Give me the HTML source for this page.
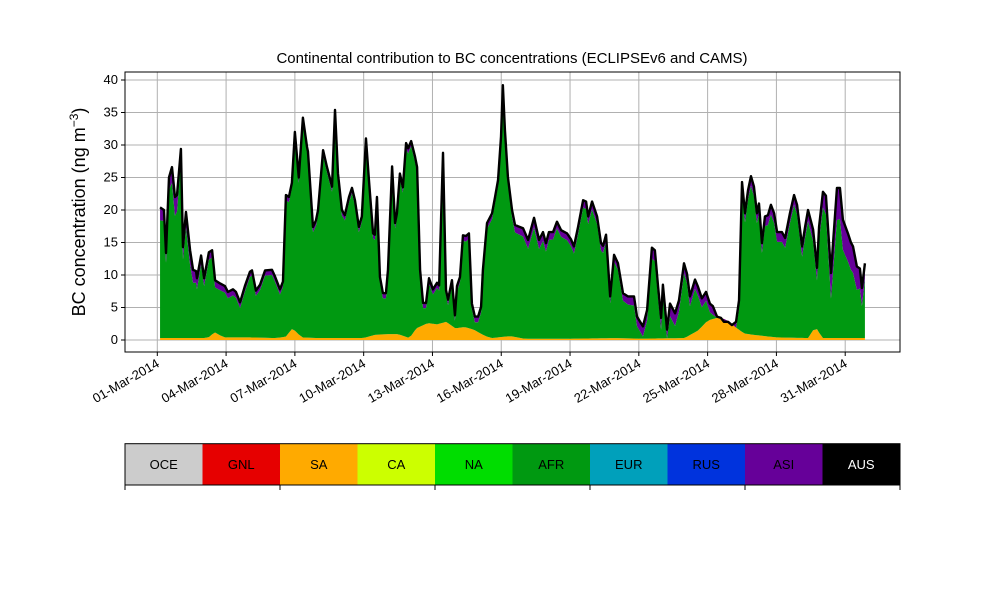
<!DOCTYPE html>
<html><head><meta charset="utf-8"><style>
body{margin:0;background:#fff;}
svg{font-family:"Liberation Sans","DejaVu Sans",sans-serif;}
</style></head><body>
<svg id="chart" width="1000" height="600" viewBox="0 0 1000 600" xmlns="http://www.w3.org/2000/svg">
<rect width="1000" height="600" fill="#fff"/>
<g id="grid"></g>
<g id="areas"></g>
<g id="axes"></g>
<g id="legend"></g>
</svg>
<script>
// Day index (days since 01-Mar-2014 00:00) for total concentration readings
const totalDays = [0.12,0.29,0.38,0.51,0.64,0.77,0.86,1.03,1.12,1.25,1.43,1.56,1.69,1.73,1.91,2.04,2.25,2.39,2.52,2.74,2.95,3.08,3.30,3.43,3.61,3.82,4.04,4.13,4.30,4.48,4.70,5.00,5.13,5.35,5.48,5.61,5.74,5.87,6.00,6.17,6.35,6.53,6.57,6.79,6.92,7.01,7.23,7.40,7.62,7.75,7.88,8.05,8.18,8.36,
8.49,8.62,8.79,8.92,9.10,9.23,9.41,9.49,9.58,9.71,9.84,9.97,10.06,10.24,10.37,10.45,10.58,10.71,10.85,10.94,11.07,11.24,11.33,11.46,11.59,11.72,11.85,12.02,12.20,12.29,12.46,12.59,12.68,12.85,12.98,13.07,13.20,13.33,13.46,13.59,13.72,13.85,13.99,14.12,14.20,14.38,14.60,14.73,14.86,14.99,15.07,15.16,15.29,15.47,15.60,15.73,15.95,16.17,
16.43,16.65,16.82,16.95,17.08,17.26,17.43,17.61,17.87,18.04,18.17,18.35,18.57,18.70,18.79,18.96,19.18,19.35,19.44,19.57,19.75,19.92,20.09,20.31,20.53,20.79,20.92,21.18,21.36,21.57,21.70,21.84,21.97,22.05,22.23,22.36,22.58,22.75,22.97,23.10,23.23,23.45,23.58,23.75,23.93,24.10,24.23,24.41,24.58,24.71,24.89,25.06,25.24,25.37,25.50,25.63,25.76,25.89,26.02,26.15,26.24,26.37,26.50,26.63,26.76,26.90,27.03,27.24,27.38,27.59,27.77,27.90,28.12,28.25,28.38,28.60,28.77,28.86,29.03,29.16,29.38,29.47,29.64,29.77,29.90,30.12,30.25,30.34,30.51,30.64,30.73,30.86];
const totalValues = [20.4,20.0,13.4,25,26.6,22,22.3,29.4,14.3,19.7,13.8,10.8,10.6,9.5,13,9.5,13.5,13.8,9.2,8.7,8.3,7.4,7.8,7.4,5.8,8.3,10.5,10.7,7.6,8.5,10.7,10.8,9.8,7.8,9,22.3,22,24.2,32,25,34.2,29.7,29,17.4,18.4,20,29.2,26.6,23.6,35.4,25.6,20,19.2,22,
23.4,21.5,17.4,19,31,24.6,16.4,16.2,22,9.7,7.2,7.2,10.8,26.7,18,19.5,25.6,23.5,30.3,29.5,30.6,28.2,26.6,10.8,5.7,5.7,9.5,7.8,8.8,8.4,28.8,7.7,6.2,9.2,3.8,8.3,9.7,16.1,16,16.4,5.6,3.6,3.6,5.1,10.8,18,19.5,22,24.6,31.3,39.2,32.3,25.1,20,17.7,17.5,17.2,15.4,
18.8,15.4,16.6,14.9,16.6,16.6,18.2,16.9,16.4,15.5,14.4,17.4,21.5,21.3,19,21.3,19,14.9,14.5,16.2,6.7,13.1,11.8,7.2,6.7,6.7,3.6,2.1,4.6,14.2,13.8,8.2,3.4,8.5,1.6,5.6,4.1,6.1,11.8,10.2,6.7,9.3,8.2,6.4,7.4,5.6,5.2,3.6,3.4,2.8,2.8,2.3,2.8,6.1,24.3,19.5,23,25.2,23.6,19.5,21,14.9,19,19.2,20.8,19.5,16.6,16.6,15.7,19.5,22.3,20.8,14.4,17.4,20,17,11.1,17.4,22.8,22.2,10.3,14.9,23.4,23.4,18.5,16.4,15,14.4,11.3,11,8,11.8];
// South America (SA) contribution
const saDays = [0.12,1.5,2.2,2.5,2.9,4,5.2,5.6,5.9,6.3,7,9,9.5,10,10.5,11,11.3,11.8,12.2,12.6,13,13.4,13.8,14.3,14.6,15.1,15.4,16,18,20,21,23,23.6,24,24.4,24.8,25.2,25.6,26,27,28.4,28.7,29,31.05];
const saValues = [0.3,0.3,0.3,1.2,0.4,0.4,0.3,0.5,1.8,0.4,0.3,0.3,0.8,0.9,0.9,0.3,1.8,2.6,2.4,2.8,1.8,2.0,1.6,0.6,0.3,0.5,0.6,0.2,0.2,0.3,0.2,0.3,1.5,3.0,3.4,3.2,2.0,1.0,0.8,0.4,0.3,2.1,0.3,0.3];
// Asia (ASI) contribution
const asiDays = [0.12,0.4,0.8,1.0,1.3,2,4,6,9,12,15,16.5,17.5,19,20,21,22,22.5,23,25,26,27,28,28.9,29.2,29.6,30,30.4,30.8,31.05];
const asiValues = [2.0,1.5,3.0,1.5,2.5,1.2,0.8,0.8,0.8,0.8,0.9,1.5,1.0,1.2,1.0,1.5,1.8,2.0,1.5,1.2,1.5,1.5,1.5,2.0,3.0,5.0,4.5,4.0,2.5,2.0];
const yTicks = [0,5,10,15,20,25,30,35,40];
const xTickDays = [0,3,6,9,12,15,18,21,24,27,30];
const xTickLabels = ["01-Mar-2014","04-Mar-2014","07-Mar-2014","10-Mar-2014","13-Mar-2014","16-Mar-2014","19-Mar-2014","22-Mar-2014","25-Mar-2014","28-Mar-2014","31-Mar-2014"];
const legendNames = ["OCE","GNL","SA","CA","NA","AFR","EUR","RUS","ASI","AUS"];
const legendColors = ["#cccccc","#e60000","#ffaa00","#ccff00","#00dd00","#009911","#00a0bb","#0033dd","#660099","#000000"];

const NS="http://www.w3.org/2000/svg";
const PL=125,PR=900,PT=72,PB=352;
const X=d=>157.3+d*22.93;
const Y=v=>340-v*6.5;
function mk(tag,attrs,parent){const e=document.createElementNS(NS,tag);for(const k in attrs)e.setAttribute(k,attrs[k]);parent.appendChild(e);return e;}
function interp(days,vals,d){if(d<=days[0])return vals[0];for(let i=1;i<days.length;i++){if(d<=days[i]){const t=(d-days[i-1])/(days[i]-days[i-1]);return vals[i-1]+t*(vals[i]-vals[i-1]);}}return vals[vals.length-1];}

const grid=document.getElementById('grid'),areas=document.getElementById('areas'),axes=document.getElementById('axes'),legend=document.getElementById('legend');

yTicks.forEach(v=>{
  const l=mk('line',{x1:PL,x2:PR,y1:Y(v),y2:Y(v),stroke:'#b0b0b0','stroke-width':1},grid);
  
  
});
xTickDays.forEach(d=>{
  const l=mk('line',{x1:X(d),x2:X(d),y1:PT,y2:PB,stroke:'#b0b0b0','stroke-width':1},grid);
  
  
});

const n=Math.min(totalDays.length,totalValues.length);
const days=totalDays.slice(0,n), vals=totalValues.slice(0,n);
const sa=days.map(d=>interp(saDays,saValues,d));
const asi=days.map(d=>interp(asiDays,asiValues,d));
function band(lo,hi,color,name){
  let p='M'+X(days[0]).toFixed(2)+','+Y(hi[0]).toFixed(2);
  for(let i=1;i<n;i++)p+='L'+X(days[i]).toFixed(2)+','+Y(hi[i]).toFixed(2);
  for(let i=n-1;i>=0;i--)p+='L'+X(days[i]).toFixed(2)+','+Y(lo[i]).toFixed(2);
  const e=mk('path',{d:p+'Z',fill:color},areas);
  
  
}
const zero=days.map(()=>0);
const afrTop=vals.map((v,i)=>Math.max(sa[i],v-asi[i]));
band(zero,sa,'#ffaa00','sa-area');
band(sa,afrTop,'#009911','afr-area');
band(afrTop,vals,'#660099','asi-area');
let lp='';
days.forEach((d,i)=>{lp+=(i?'L':'M')+X(d).toFixed(2)+','+Y(vals[i]).toFixed(2);});
const line=mk('path',{d:lp,fill:'none',stroke:'#000','stroke-width':2.4,'stroke-linejoin':'round'},areas);



const fr=mk('rect',{x:PL,y:PT,width:PR-PL,height:PB-PT,fill:'none',stroke:'#000','stroke-width':1},axes);


yTicks.forEach(v=>{
  mk('line',{x1:PL-4,x2:PL,y1:Y(v),y2:Y(v),stroke:'#000'},axes);
  const t=mk('text',{x:PL-7,y:Y(v)+4,'font-size':13,'text-anchor':'end'},axes);
  t.textContent=v;
  
  
});
xTickDays.forEach((d,i)=>{
  mk('line',{x1:X(d),x2:X(d),y1:PB,y2:PB+4,stroke:'#000'},axes);
  const t=mk('text',{x:X(d)+3,y:PB+14,'font-size':13,'text-anchor':'end',transform:`rotate(-30 ${X(d)+3} ${PB+14})`},axes);
  t.textContent=xTickLabels[i];
  
  
});
const title=mk('text',{x:512,y:63,'font-size':15,'text-anchor':'middle'},axes);
title.textContent='Continental contribution to BC concentrations (ECLIPSEv6 and CAMS)';


const yl=mk('text',{x:0,y:0,'font-size':18,'text-anchor':'middle',transform:'translate(85,212) rotate(-90)'},axes);
yl.innerHTML='BC concentration (ng m<tspan dy="-7" font-size="12">−3</tspan><tspan dy="7">)</tspan>';



const cw=(PR-PL)/legendNames.length;
legendNames.forEach((nm,i)=>{
  const r=mk('rect',{x:PL+i*cw,y:443.7,width:cw+0.5,height:41.3,fill:legendColors[i]},legend);
  
  
  const t=mk('text',{x:PL+i*cw+cw/2,y:469,'font-size':13,'text-anchor':'middle',fill:nm==='AUS'?'#fff':'#000'},legend);
  t.textContent=nm;
  
  
});
const lb=mk('rect',{x:PL,y:443.7,width:PR-PL,height:41.3,fill:'none',stroke:'#000'},legend);


for(let i=0;i<=legendNames.length;i+=2){
  mk('line',{x1:PL+i*cw,x2:PL+i*cw,y1:485,y2:490,stroke:'#000'},legend);
}
</script>
</body></html>
